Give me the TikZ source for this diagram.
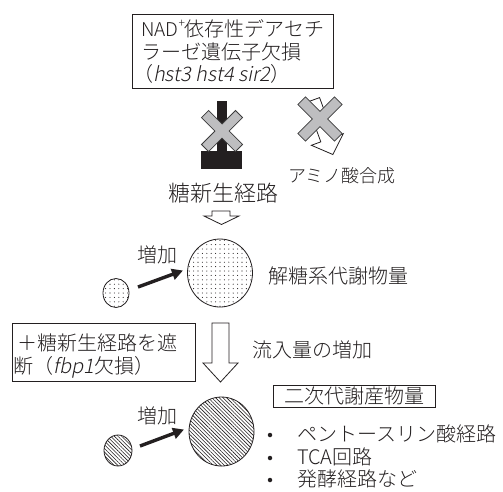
\documentclass[tikz,border=0pt]{standalone}
\usepackage{fontspec}
\setmainfont{Noto Sans CJK JP}[UprightFont=* Light]
\newfontfamily\itl{Noto Sans CJK JP}[UprightFont=* Light, FakeSlant=0.2]
\usetikzlibrary{patterns.meta,shapes.geometric,arrows.meta}
\definecolor{ink}{RGB}{35,31,32}
\definecolor{xgray}{RGB}{190,190,192}
\definecolor{xedge}{RGB}{60,60,60}
\tikzset{
  lbl/.style={inner sep=0pt, text=ink, font=\fontsize{20}{24}\selectfont},
  boxst/.style={draw=ink, line width=0.8pt, inner sep=0pt},
  hollow/.style={draw=ink, fill=white, line width=0.8pt, line join=miter},
  fatarrow/.style={draw=ink, line width=3.4pt, -{Triangle[length=11pt,width=11pt]}},
  blob/.style={ellipse, draw=ink, line width=0.8pt, inner sep=0pt},
  bul/.style={circle, fill=ink, inner sep=0pt, minimum size=4.5pt},
  dotsfill/.style={pattern={Dots[distance=4.4pt,radius=0.55pt]}, pattern color=ink},
  hatchfill/.style={pattern={Lines[angle=-45,distance=2.6pt,line width=0.6pt]}, pattern color=ink},
  crossx/.pic={\draw[fill=xgray, draw=xedge, line width=0.8pt, rotate=45]
    (5,24) -- (5,5) -- (24,5) -- (24,-5) -- (5,-5) -- (5,-24) -- (-5,-24) -- (-5,-5)
    -- (-24,-5) -- (-24,5) -- (-5,5) -- (-5,24) -- cycle;}
}
\begin{document}
\begin{tikzpicture}[x=1pt,y=-1pt]
\useasboundingbox (0,0) rectangle (503,491);
\fill[white] (0,0) rectangle (503,491);

% top box
\node[boxst, minimum width=201pt, minimum height=74pt] (box1) at (232.5,51) {};
\node[lbl, anchor=west] (t1) at (141,29) {{\fontsize{19}{19}\selectfont NAD}\raisebox{0.45em}{\fontsize{12}{12}\selectfont +}依存性デアセチ};
\node[lbl, anchor=west] (t2) at (141,52) {ラーゼ遺伝子欠損};
\node[lbl, anchor=west] (t3) at (133,74) {（{\itl hst3 hst4 sir2}）};

% black bar (blocked gluconeogenesis)
\fill[ink] (217,101) rectangle (227,152);
\fill[ink] (201,151) rectangle (242,169);
\pic at (222,131) {crossx};

% hollow tilted arrow (amino acid synthesis)
\begin{scope}[shift={(313,100)}, rotate=20]
\draw[hollow] (-7,0) -- (7,0) -- (7,42) -- (17,42) -- (0,58) -- (-17,42) -- (-7,42) -- cycle;
\end{scope}
\pic[scale=1.08] at (320,119) {crossx};

\node[lbl, anchor=west, font=\fontsize{22}{26}\selectfont] (gng) at (168,193) {糖新生経路};
\node[lbl, anchor=west, font=\fontsize{18}{22}\selectfont] (amino) at (288,176) {アミノ酸合成};

% small hollow down arrow
\draw[hollow] (212,211) -- (230,211) -- (230,216) -- (239,216) -- (221.5,224.5) -- (204,216) -- (212,216) -- cycle;

% dotted circles
\node[blob, dotsfill, minimum width=26pt, minimum height=29pt] (c1) at (116,293) {};
\node[blob, dotsfill, minimum width=65pt, minimum height=68pt] (c2) at (220,273) {};
\coordinate (a1s) at (138,287);
\coordinate (a1e) at (183,270.5);
\draw[fatarrow] (a1s) -- (a1e);
\node[lbl] (inc1) at (157,255) {増加};
\node[lbl, anchor=west] (glyco) at (268,276) {解糖系代謝物量};

% second box
\node[boxst, minimum width=183pt, minimum height=58pt] (box2) at (103.5,352) {};
\node[lbl, anchor=west] (u1) at (17,343) {＋糖新生経路を遮};
\node[lbl, anchor=west] (u2) at (13,367) {断（{\itl fbp1}欠損）};

% big hollow down arrow
\draw[hollow] (212,323) -- (229,323) -- (229,363) -- (238,363) -- (220.5,382) -- (203,363) -- (212,363) -- cycle;
\node[lbl, anchor=west] (flux) at (252,350) {流入量の増加};

% hatched circles
\node[blob, hatchfill, minimum width=28pt, minimum height=31pt] (c3) at (118,450.5) {};
\node[blob, hatchfill, minimum width=65pt, minimum height=69pt] (c4) at (221.5,431.5) {};
\coordinate (a2s) at (140,446);
\coordinate (a2e) at (184,429.5);
\draw[fatarrow] (a2s) -- (a2e);
\node[lbl] (inc2) at (157,416) {増加};

% secondary metabolites
\node[boxst, minimum width=162pt, minimum height=22pt] (box3) at (354,396) {};
\node[lbl] (sec) at (354,396) {二次代謝産物量};
\node[bul] (b1) at (270,435) {};
\node[bul] (b2) at (270,458) {};
\node[bul] (b3) at (270,480) {};
\node[lbl, anchor=west] (l1) at (297,434) {ペントースリン酸経路};
\node[lbl, anchor=west] (l2) at (297,457) {TCA回路};
\node[lbl, anchor=west] (l3) at (297,479) {発酵経路など};
\end{tikzpicture}
\end{document}
